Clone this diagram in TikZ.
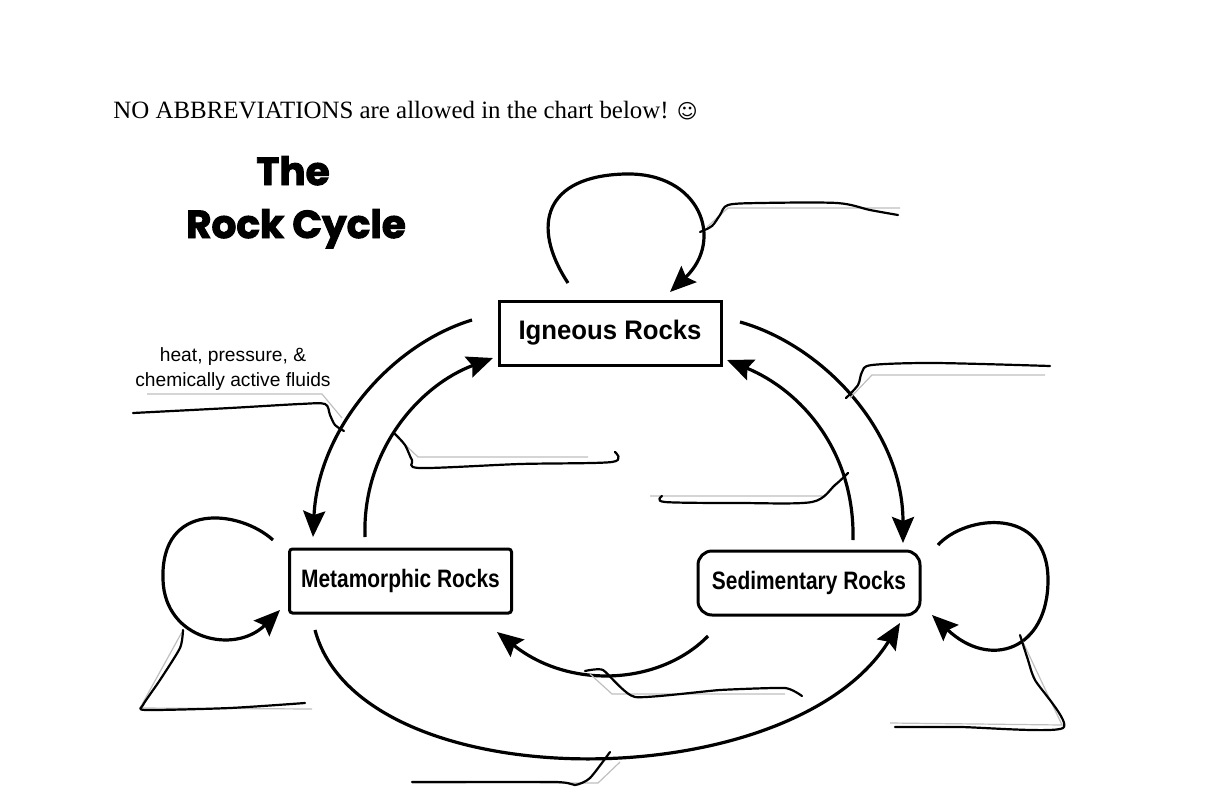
\documentclass[tikz,border=0pt]{standalone}
\usepackage{fontspec}
\setmainfont{Liberation Serif}
\setsansfont{Liberation Sans}
\newfontfamily\titlefont{Poppins}[BoldFeatures={FakeBold=2.5}]
\newfontfamily\symfont{DejaVu Sans}
\usetikzlibrary{arrows.meta,positioning}

\begin{document}
\begin{tikzpicture}[x=0.5pt,y=-0.5pt,
       rock/.style={draw,line width=1.5pt,minimum width=111pt,minimum height=32pt,
         inner sep=0pt,font=\sffamily\bfseries\fontsize{12.6}{14}\selectfont},
       cyc/.style={line width=1.6pt},
       tip/.style={-{Stealth[length=13pt,width=11pt,inset=2pt]}},
       pen/.style={line width=1.1pt,line join=round,line cap=round},
       guide/.style={draw=black!25,line width=0.6pt},
       heading/.style={anchor=base,inner sep=0pt,font=\titlefont\bfseries\fontsize{19.5}{22}\selectfont}]

    \useasboundingbox (0,0) rectangle (1216,809);

    \node[anchor=base west,inner sep=0pt,font=\fontsize{12.45}{14}\selectfont] (note) at (113,118)
        {NO ABBREVIATIONS are allowed in the chart below! {\symfont\fontsize{10}{12}\selectfont ☺}};
    \node[heading] (title1) at (293,185) {The};
    \node[heading] (title2) at (296,238) {Rock Cycle};

    \node[rock,font=\sffamily\bfseries\fontsize{13.4}{15}\selectfont] (ign) at (610,333) {\scalebox{0.96}[1]{Igneous Rocks}};
    \node[rock,rounded corners=1.5pt] (met) at (400.5,581) {\scalebox{0.83}[1]{Metamorphic Rocks}};
    \node[rock,rounded corners=7pt] (sed) at (809,583) {\scalebox{0.83}[1]{Sedimentary Rocks}};

    \node[align=center,font=\sffamily\fontsize{9.6}{12.5}\selectfont] (hint) at (233,369)
        {heat, pressure, \&\\chemically active fluids};

    % ends of the cycle arrows
    \coordinate (ign-w) at (472,320);   \coordinate (met-n) at (313,537);
    \coordinate (met-ne) at (365,537);  \coordinate (ign-sw) at (493,358);
    \coordinate (ign-e) at (740,322);   \coordinate (sed-n) at (903,543);
    \coordinate (sed-nw) at (853,540);  \coordinate (ign-se) at (727,360);
    \coordinate (met-s) at (315,630);   \coordinate (sed-sw) at (900,623);
    \coordinate (sed-w) at (708,636);   \coordinate (met-se) at (497,632);

    \draw[cyc,tip] (ign-w) .. controls (390,345) and (318,430) .. (met-n);
    \draw[cyc,tip] (met-ne) .. controls (362,450) and (420,385) .. (ign-sw);
    \draw[cyc,tip] (ign-e) .. controls (822,345) and (903,430) .. (sed-n);
    \draw[cyc,tip] (sed-nw) .. controls (855,450) and (800,390) .. (ign-se);
    \draw[cyc,tip] (met-s) .. controls (360,800) and (790,800) .. (sed-sw);
    \draw[cyc,tip] (sed-w) .. controls (660,685) and (570,690) .. (met-se);

    % loops back into the same rock
    \draw[cyc,tip] (568,283) .. controls (530,225) and (545,176) .. (625,174)
        .. controls (700,172) and (725,240) .. (670,292);
    \draw[cyc,tip] (273,540) .. controls (240,510) and (160,500) .. (163,580)
        .. controls (165,640) and (235,655) .. (280,610);
    \draw[cyc,tip] (938,545) .. controls (965,515) and (1048,505) .. (1048,580)
        .. controls (1048,650) and (990,670) .. (932,615);

    % answer lines
    \draw[guide] (707,227) -- (728,208) -- (900,208);
    \draw[guide] (147,394) -- (322,394) -- (342,418);
    \draw[guide] (397,437) -- (418,457) -- (588,457);
    \draw[guide] (850,398) -- (872,375) -- (1045,375);
    \draw[guide] (650,496) -- (825,496) -- (848,473);
    \draw[guide] (590,674) -- (612,694) -- (785,694);
    \draw[guide] (412,783) -- (598,783) -- (620,762);
    \draw[guide] (182,632) -- (140,708) -- (312,709);
    \draw[guide] (1022,640) -- (1062,725) -- (890,723);

    \draw[pen] plot[smooth,tension=0.5] coordinates {(700,232) (712,226) (720,215) (728,205) (760,203) (837,203) (870,210) (898,215)};
    \draw[pen] plot[smooth,tension=0.5] coordinates {(133,413) (230,408) (300,404) (325,404) (330,415) (335,425) (344,431)};
    \draw[pen] plot[smooth,tension=0.5] coordinates {(395,434) (405,445) (412,460) (420,468) (520,464) (612,462) (615,452)};
    \draw[pen] plot[smooth,tension=0.5] coordinates {(846,398) (858,385) (862,372) (872,365) (935,363) (1050,366)};
    \draw[pen] plot[smooth,tension=0.5] coordinates {(848,473) (835,485) (812,502) (740,503) (665,502) (662,496)};
    \draw[pen] plot[smooth,tension=0.3] coordinates {(585,671) (603,670) (635,697) (720,690) (785,688) (802,696)};
    \draw[pen] plot[smooth,tension=0.4] coordinates {(412,782) (555,782) (575,785) (590,778) (610,752)};
    \draw[pen] plot[smooth,tension=0.4] coordinates {(183,630) (180,648) (160,680) (143,705) (146,710) (230,708) (305,703)};
    \draw[pen] plot[smooth,tension=0.4] coordinates {(1020,635) (1028,660) (1035,680) (1063,728) (960,727) (895,727)};

\end{tikzpicture}
\end{document}
